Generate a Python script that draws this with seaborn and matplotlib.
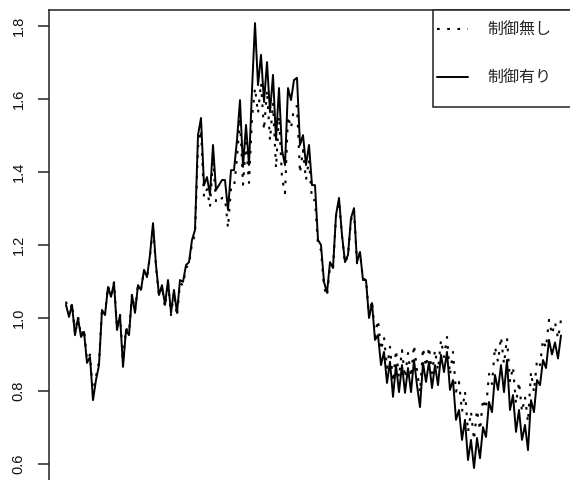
import numpy as np
import pandas as pd
import matplotlib
matplotlib.use("Agg")
import matplotlib.pyplot as plt
import seaborn as sns
from matplotlib.patches import Rectangle

# values, one every 3 px
with_ctrl = [
    1.036, 1.003, 1.036, 0.953, 1.000, 0.948, 0.962, 0.877, 0.893, 0.775,
    0.830, 0.871, 1.022, 1.008, 1.085, 1.058, 1.096, 0.967, 1.008, 0.866,
    0.967, 0.953, 1.063, 1.014, 1.090, 1.077, 1.132, 1.112, 1.173, 1.260,
    1.145, 1.063, 1.090, 1.036, 1.104, 1.014, 1.077, 1.014, 1.104, 1.099,
    1.145, 1.153, 1.214, 1.241, 1.501, 1.548, 1.364, 1.386, 1.337, 1.474,
    1.351, 1.364, 1.378, 1.378, 1.296, 1.405, 1.405, 1.488, 1.597, 1.414,
    1.529, 1.419, 1.625, 1.808, 1.638, 1.721, 1.592, 1.701, 1.564, 1.666,
    1.488, 1.630, 1.460, 1.419, 1.630, 1.597, 1.652, 1.658, 1.474, 1.501,
    1.419, 1.474, 1.364, 1.364, 1.214, 1.200, 1.099, 1.069, 1.153, 1.137,
    1.282, 1.329, 1.227, 1.153, 1.173, 1.274, 1.301, 1.153, 1.181, 1.104,
    1.104, 1.000, 1.041, 0.940, 0.953, 0.871, 0.907, 0.822, 0.880, 0.784,
    0.871, 0.797, 0.871, 0.795, 0.863, 0.797, 0.885, 0.816, 0.756, 0.877,
    0.825, 0.880, 0.808, 0.871, 0.816, 0.899, 0.852, 0.907, 0.803, 0.830,
    0.721, 0.748, 0.666, 0.721, 0.611, 0.666, 0.589, 0.671, 0.616, 0.701,
    0.674, 0.770, 0.742, 0.844, 0.803, 0.871, 0.797, 0.885, 0.748, 0.789,
    0.688, 0.748, 0.666, 0.707, 0.638, 0.775, 0.742, 0.830, 0.816, 0.885,
    0.863, 0.940, 0.900, 0.933, 0.889, 0.952,
]
no_ctrl = [
    1.045, 1.010, 1.040, 0.960, 1.005, 0.952, 0.970, 0.885, 0.900, 0.790,
    0.840, 0.880, 1.025, 1.012, 1.088, 1.062, 1.098, 0.975, 1.012, 0.880,
    0.972, 0.960, 1.066, 1.020, 1.092, 1.080, 1.130, 1.110, 1.170, 1.250,
    1.140, 1.060, 1.085, 1.030, 1.098, 1.008, 1.070, 1.005, 1.095, 1.090,
    1.138, 1.145, 1.205, 1.228, 1.468, 1.515, 1.331, 1.353, 1.304, 1.441,
    1.318, 1.315, 1.329, 1.329, 1.247, 1.356, 1.356, 1.439, 1.548, 1.365,
    1.480, 1.370, 1.548, 1.630, 1.561, 1.644, 1.515, 1.624, 1.487, 1.589,
    1.411, 1.553, 1.383, 1.342, 1.553, 1.520, 1.575, 1.581, 1.397, 1.460,
    1.378, 1.433, 1.323, 1.323, 1.200, 1.186, 1.085, 1.060, 1.140, 1.135,
    1.278, 1.320, 1.225, 1.150, 1.172, 1.268, 1.295, 1.150, 1.180, 1.105,
    1.108, 1.005, 1.048, 0.950, 0.994, 0.912, 0.948, 0.863, 0.921, 0.825,
    0.912, 0.838, 0.912, 0.836, 0.904, 0.838, 0.926, 0.857, 0.797, 0.918,
    0.866, 0.921, 0.849, 0.912, 0.857, 0.940, 0.893, 0.948, 0.844, 0.907,
    0.798, 0.825, 0.743, 0.798, 0.688, 0.743, 0.666, 0.748, 0.693, 0.778,
    0.751, 0.847, 0.819, 0.921, 0.880, 0.948, 0.874, 0.945, 0.825, 0.866,
    0.765, 0.825, 0.743, 0.784, 0.715, 0.852, 0.797, 0.885, 0.871, 0.940,
    0.918, 0.995, 0.955, 0.988, 0.944, 0.995,
]
labels = ['制御無し', '制御有り']
yticks = [0.6, 0.8, 1.0, 1.2, 1.4, 1.6, 1.8]

steps = np.arange(len(with_ctrl))
df = pd.DataFrame({'step': steps, 'no_ctrl': no_ctrl, 'with_ctrl': with_ctrl})

sns.set_style('white')
plt.rcParams['font.family'] = ['Liberation Sans', 'DejaVu Sans']

W, H = 570, 480
edge = '#222222'
fig = plt.figure(figsize=(W / 100, H / 100), dpi=100)
# plot region runs past the right and bottom edges of the picture
ax = fig.add_axes([49 / W, 1 - 500 / H, (640 - 49) / W, 490 / H])

sns.lineplot(data=df, x='step', y='no_ctrl', ax=ax, color='black',
             lw=1.5, label=labels[0])
sns.lineplot(data=df, x='step', y='with_ctrl', ax=ax, color='black',
             lw=1.4, label=labels[1])
ax.lines[0].set_dashes((1.3, 3.6))

ax.set_xlim(-17 / 3, (640 - 66) / 3)
ax.set_ylim(1.87123 - 500 / 365, 1.87123 - 10 / 365)
ax.set_xticks([])
ax.set_yticks(yticks)
ax.set_xlabel('')
ax.set_ylabel('')
ax.tick_params(axis='y', length=7.9, width=1.1, color=edge, pad=9,
               labelsize=10.5, labelcolor='#111111', left=True)
for lbl in ax.get_yticklabels():
    lbl.set_rotation(90)
    lbl.set_va('center')
    lbl.set_ha('right')
for s in ax.spines.values():
    s.set_linewidth(1.1)
    s.set_color(edge)

# legend box, cut by the right edge like the plot region
fig.add_artist(Rectangle((433 / W, 1 - 107 / H), (640 - 433) / W, 97 / H,
                         transform=fig.transFigure, facecolor='white',
                         edgecolor=edge, lw=1.1, zorder=5))
leg = ax.legend(handles=ax.lines[:2], labels=labels, loc='upper left',
                bbox_to_anchor=(437 / W, 1 - 22 / H),
                bbox_transform=fig.transFigure, frameon=False,
                borderpad=0, borderaxespad=0, handlelength=1.95,
                handletextpad=1.2, labelspacing=1.9,
                prop={'family': ['Noto Sans CJK JP', 'DejaVu Sans'], 'size': 11.5})
leg.set_zorder(6)
fig.legends.append(leg)

fig.savefig('out.png', dpi=100)
